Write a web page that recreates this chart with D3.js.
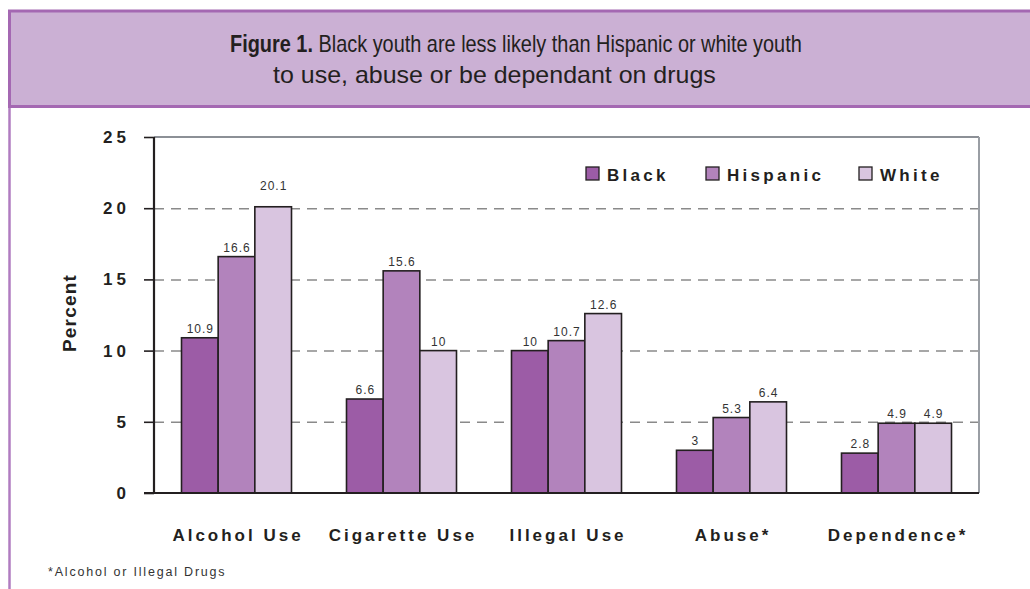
<!DOCTYPE html>
<html>
<head>
<meta charset="utf-8">
<script src="https://cdn.jsdelivr.net/npm/d3@7"></script>
<style>
  html, body { margin: 0; padding: 0; background: #fff; }
  svg { display: block; }
</style>
</head>
<body>
<svg id="chart" width="1030" height="589"></svg>
<script>
// ---- Data ----
const categories = ["Alcohol Use", "Cigarette Use", "Illegal Use", "Abuse*", "Dependence*"];
const seriesNames = ["Black", "Hispanic", "White"];
const blackValues = [10.9, 6.6, 10, 3, 2.8];
const hispanicValues = [16.6, 15.6, 10.7, 5.3, 4.9];
const whiteValues = [20.1, 10, 12.6, 6.4, 4.9];
const yTickValues = [0, 5, 10, 15, 20, 25];
const titleBold = "Figure 1.";
const titleLine1 = " Black youth are less likely than Hispanic or white youth";
const titleLine2 = "to use, abuse or be dependant on drugs";
const footnote = "*Alcohol or Illegal Drugs";

const seriesValues = [blackValues, hispanicValues, whiteValues];
const colors = ["#9c5ca6", "#b283bc", "#d9c5e0"];
const FONT = "'Liberation Sans', Arial, sans-serif";

const svg = d3.select("#chart");

// ---- Header ----
svg.append("rect").attr("x", 9.5).attr("y", 11).attr("width", 1030).attr("height", 95.5)
  .attr("fill", "#cbb0d4").attr("stroke", "#a468b2").attr("stroke-width", 3);
svg.append("line").attr("x1", 9.5).attr("x2", 9.5).attr("y1", 108).attr("y2", 589)
  .attr("stroke", "#b07cc0").attr("stroke-width", 2.5);

function titleLine(x, yBase, targetW, build) {
  const g = svg.append("g").attr("transform", `translate(${x},${yBase})`);
  const t = g.append("text").attr("font-family", FONT).attr("font-size", 23).attr("fill", "#231f20");
  build(t);
  const s = targetW / t.node().getComputedTextLength();
  g.attr("transform", `translate(${x},${yBase}) scale(${s},1)`);
}
titleLine(230, 52, 572, t => {
  t.append("tspan").attr("font-weight", "bold").text(titleBold);
  t.append("tspan").text(titleLine1);
});
titleLine(273, 83, 443, t => t.text(titleLine2));

// ---- Scales ----
const x0 = d3.scaleBand().domain(categories).range([154, 979]).paddingInner(0).paddingOuter(0);
const x1 = d3.scaleBand().domain(seriesNames).range([0, x0.bandwidth()]).paddingInner(0).paddingOuter(0.75);
const y = d3.scaleLinear().domain([0, 25]).range([493, 137]);

// ---- Gridlines ----
const grid = svg.append("g").attr("transform", "translate(154,0)")
  .call(d3.axisLeft(y).tickValues(yTickValues.filter(v => v > 0 && v < 25)).tickSize(-825).tickFormat(""));
grid.select(".domain").remove();
grid.selectAll("line").attr("stroke", "#8a8a8a").attr("stroke-width", 1.5).attr("stroke-dasharray", "10,7");

// Plot frame (top & right)
svg.append("line").attr("x1", 154).attr("x2", 979).attr("y1", y(25)).attr("y2", y(25))
  .attr("stroke", "#8c9096").attr("stroke-width", 2);
svg.append("line").attr("x1", 979).attr("x2", 979).attr("y1", y(25)).attr("y2", y(0))
  .attr("stroke", "#9a9ea4").attr("stroke-width", 2);

// ---- Bars ----
const rows = categories.map((c, i) => ({ cat: c, vals: seriesNames.map((s, j) => ({ s, j, v: seriesValues[j][i] })) }));
const groups = svg.append("g").selectAll("g").data(rows).join("g")
  .attr("transform", d => `translate(${x0(d.cat)},0)`);
groups.selectAll("rect").data(d => d.vals).join("rect")
  .attr("x", d => x1(d.s)).attr("width", x1.bandwidth())
  .attr("y", d => y(d.v)).attr("height", d => y(0) - y(d.v))
  .attr("fill", d => colors[d.j]).attr("stroke", "#231f20").attr("stroke-width", 1.6);
groups.selectAll("text.val").data(d => d.vals).join("text").attr("class", "val")
  .attr("x", d => x1(d.s) + x1.bandwidth() / 2 + 0.5)
  .attr("y", d => y(d.v) - (d.v > 20 ? 17 : 5))
  .attr("text-anchor", "middle").attr("font-family", FONT).attr("font-size", 12)
  .attr("letter-spacing", 1).attr("fill", "#333").text(d => d.v);

// ---- Axes ----
const yAxis = svg.append("g").attr("transform", "translate(154,0)")
  .call(d3.axisLeft(y).tickValues(yTickValues).tickSize(10).tickPadding(18).tickFormat(d3.format("d")));
yAxis.select(".domain").attr("stroke", "#231f20").attr("stroke-width", 2.2).attr("d", `M0,${y(25)}V${y(0)}`);
yAxis.selectAll(".tick line").attr("stroke", "#231f20").attr("stroke-width", 1.6);
yAxis.selectAll(".tick text").attr("font-family", FONT).attr("font-size", 17).attr("font-weight", "bold")
  .attr("letter-spacing", 4).attr("fill", "#231f20").attr("dx", 4);

const xAxis = svg.append("g").attr("transform", `translate(0,${y(0)})`)
  .call(d3.axisBottom(x0).tickSize(0).tickPadding(36));
xAxis.select(".domain").attr("stroke", "#231f20").attr("stroke-width", 2.2).attr("d", "M144,0H979");
xAxis.selectAll(".tick text").attr("font-family", FONT).attr("font-size", 17).attr("font-weight", "bold")
  .attr("letter-spacing", 3).attr("fill", "#231f20").attr("dx", 1.5);

// Y label
svg.append("text").attr("transform", "translate(76,313) rotate(-90)")
  .attr("text-anchor", "middle").attr("font-family", FONT).attr("font-size", 19).attr("font-weight", "bold")
  .attr("letter-spacing", 1.2).attr("fill", "#231f20").text("Percent");

// ---- Legend ----
const legendX = [586, 706, 859];
const legend = svg.append("g").selectAll("g").data(seriesNames).join("g")
  .attr("transform", (d, i) => `translate(${legendX[i]},167)`);
legend.append("rect").attr("width", 13).attr("height", 13)
  .attr("fill", (d, i) => colors[i]).attr("stroke", "#231f20").attr("stroke-width", 1.3);
legend.append("text").attr("x", 21).attr("y", 14).attr("font-family", FONT).attr("font-size", 17)
  .attr("font-weight", "bold").attr("letter-spacing", 3.3).attr("fill", "#231f20").text(d => d);

// ---- Footnote ----
svg.append("text").attr("x", 48).attr("y", 576).attr("font-family", FONT).attr("font-size", 12.5)
  .attr("letter-spacing", 1.8).attr("fill", "#333").text(footnote);
</script>
</body>
</html>
